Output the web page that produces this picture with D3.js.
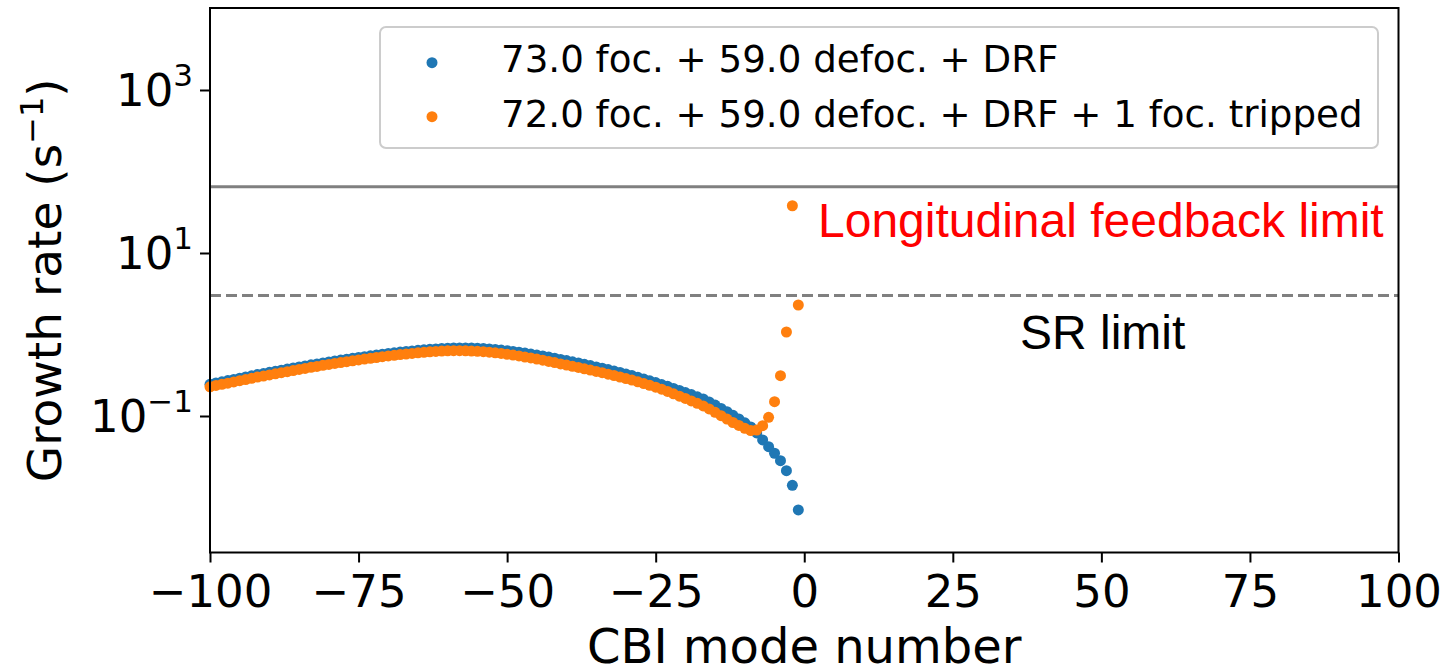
<!DOCTYPE html>
<html>
<head>
<meta charset="utf-8">
<script src="https://cdn.jsdelivr.net/npm/d3@7"></script>
<style>
  body { margin: 0; background: #fff; }
  svg text { font-family: "DejaVu Sans", sans-serif; }
</style>
</head>
<body>
<svg id="chart" width="1448" height="668"></svg>
<script>
// CBI mode numbers (x categories)
const modes = d3.range(-100, 0);

// growth rate (1/s), 73 foc. + 59 defoc. + DRF
const rateNominal = [
  0.245, 0.254, 0.263, 0.272, 0.281, 0.291, 0.301, 0.311, 0.322, 0.332,
  0.343, 0.353, 0.365, 0.376, 0.388, 0.400, 0.412, 0.424, 0.436, 0.448,
  0.461, 0.473, 0.485, 0.497, 0.510, 0.523, 0.535, 0.548, 0.560, 0.573,
  0.585, 0.596, 0.608, 0.619, 0.629, 0.640, 0.649, 0.658, 0.666, 0.673,
  0.679, 0.683, 0.685, 0.685, 0.683, 0.679, 0.673, 0.666, 0.656, 0.645,
  0.633, 0.620, 0.606, 0.591, 0.576, 0.560, 0.545, 0.528, 0.512, 0.495,
  0.478, 0.462, 0.447, 0.431, 0.415, 0.400, 0.386, 0.371, 0.356, 0.342,
  0.327, 0.313, 0.298, 0.284, 0.270, 0.257, 0.243, 0.231, 0.218, 0.206,
  0.194, 0.183, 0.172, 0.162, 0.149, 0.136, 0.124, 0.113, 0.102, 0.0919,
  0.0825, 0.0733, 0.0619, 0.0508, 0.0420, 0.0349, 0.0283, 0.0213, 0.0141, 0.00703
];

// growth rate (1/s), 72 foc. + 59 defoc. + DRF + 1 foc. tripped
const rateTripped = [
  0.228, 0.237, 0.245, 0.253, 0.262, 0.271, 0.280, 0.290, 0.300, 0.309,
  0.319, 0.329, 0.340, 0.350, 0.361, 0.373, 0.383, 0.395, 0.406, 0.418,
  0.429, 0.441, 0.452, 0.464, 0.476, 0.488, 0.499, 0.510, 0.522, 0.534,
  0.545, 0.555, 0.567, 0.576, 0.586, 0.596, 0.605, 0.613, 0.620, 0.627,
  0.631, 0.633, 0.633, 0.631, 0.627, 0.622, 0.615, 0.606, 0.596, 0.585,
  0.571, 0.559, 0.545, 0.529, 0.515, 0.499, 0.484, 0.467, 0.452, 0.436,
  0.421, 0.407, 0.394, 0.379, 0.366, 0.352, 0.340, 0.326, 0.314, 0.301,
  0.288, 0.276, 0.263, 0.250, 0.238, 0.226, 0.213, 0.200, 0.187, 0.175,
  0.164, 0.153, 0.143, 0.133, 0.122, 0.111, 0.101, 0.0916, 0.0832, 0.0765,
  0.0707, 0.0664, 0.0673, 0.0760, 0.0964, 0.150, 0.312, 1.073, 38.0, 2.30
];

const seriesLabels = ["73.0 foc. + 59.0 defoc. + DRF", "72.0 foc. + 59.0 defoc. + DRF + 1 foc. tripped"];
const seriesColors = ["#1f77b4", "#ff7f0e"];

// horizontal limits (1/s)
const feedbackLimit = 65;
const srLimit = 3;

const xTicks = [-100, -75, -50, -25, 0, 25, 50, 75, 100];
const yTicks = [1e-1, 1e1, 1e3];

const svg = d3.select('#chart');

const plot = { left: 210, right: 1398.5, top: 8, bottom: 552.5 };

const x = d3.scaleLinear().domain([-100, 100]).range([plot.left, plot.right]);
const y = d3.scaleLog().domain([0.002114, 10139]).range([plot.bottom, plot.top]);

// limit lines
svg.append('line')
    .attr('x1', plot.left).attr('x2', plot.right)
    .attr('y1', y(feedbackLimit)).attr('y2', y(feedbackLimit))
    .attr('stroke', '#808080').attr('stroke-width', 3);

svg.append('line')
    .attr('x1', plot.left).attr('x2', plot.right)
    .attr('y1', y(srLimit)).attr('y2', y(srLimit))
    .attr('stroke', '#808080').attr('stroke-width', 3)
    .attr('stroke-dasharray', '11,5');

// scatter points
const series = [rateNominal, rateTripped];
series.forEach((vals, si) => {
  svg.append('g')
    .selectAll('circle')
    .data(modes.map((m, i) => ({ m: m, v: vals[i] })))
    .enter().append('circle')
      .attr('cx', (d) => x(d.m))
      .attr('cy', (d) => y(d.v))
      .attr('r', 5.5)
      .attr('fill', seriesColors[si]);
});

// frame
svg.append('rect')
    .attr('x', plot.left).attr('y', plot.top)
    .attr('width', plot.right - plot.left).attr('height', plot.bottom - plot.top)
    .attr('fill', 'none').attr('stroke', '#000').attr('stroke-width', 2);

// x axis
const xAxis = svg.append('g')
    .attr('transform', `translate(0,${plot.bottom})`)
    .call(d3.axisBottom(x).tickValues(xTicks).tickSize(10)
      .tickFormat((d) => d < 0 ? '\u2212' + Math.abs(d) : d));
xAxis.select('.domain').remove();
xAxis.selectAll('line').attr('stroke-width', 2);
xAxis.selectAll('text')
    .attr('y', 54.5).attr('dy', 0)
    .attr('font-size', 45).attr('fill', '#000')
    .style('font-family', '"DejaVu Sans", sans-serif');

// y axis
const yAxis = svg.append('g')
    .attr('transform', `translate(${plot.left},0)`)
    .call(d3.axisLeft(y).tickValues(yTicks).tickSize(10).tickFormat(''));
yAxis.select('.domain').remove();
yAxis.selectAll('line').attr('stroke-width', 2);

yTicks.forEach((t) => {
  const exp = Math.round(Math.log10(t));
  const lbl = svg.append('text')
      .attr('x', 193).attr('y', y(t) + 16.5)
      .attr('text-anchor', 'end')
      .attr('font-size', 45);
  lbl.append('tspan').text('10');
  lbl.append('tspan').attr('dy', -20).attr('font-size', 31)
      .text(exp < 0 ? '\u2212' + Math.abs(exp) : exp);
});

// axis labels
svg.append('text')
    .attr('x', (plot.left + plot.right) / 2).attr('y', 663)
    .attr('text-anchor', 'middle').attr('font-size', 48)
    .text('CBI mode number');

const ylab = svg.append('text')
    .attr('transform', `translate(61,${(plot.top + plot.bottom) / 2}) rotate(-90)`)
    .attr('text-anchor', 'middle').attr('font-size', 47);
ylab.append('tspan').text('Growth rate (s');
ylab.append('tspan').attr('dy', -18).attr('font-size', 32).text('\u22121');
ylab.append('tspan').attr('dy', 18).text(')');

// limit annotations
svg.append('text')
    .attr('x', 818).attr('y', 237)
    .attr('font-size', 48).attr('fill', '#ff0000')
    .style('font-family', '"Liberation Sans", Arial, sans-serif')
    .text('Longitudinal feedback limit');

svg.append('text')
    .attr('x', 1020).attr('y', 349)
    .attr('font-size', 48).attr('fill', '#000')
    .style('font-family', '"Liberation Sans", Arial, sans-serif')
    .text('SR limit');

// legend
const legend = svg.append('g');
legend.append('rect')
    .attr('x', 380).attr('y', 27).attr('width', 998).attr('height', 121)
    .attr('rx', 6)
    .attr('fill', 'rgba(255,255,255,0.8)').attr('stroke', '#cccccc').attr('stroke-width', 2);

seriesLabels.forEach((s, i) => {
  const cy = 62.7 + i * 54;
  legend.append('circle').attr('cx', 432).attr('cy', cy).attr('r', 5.5).attr('fill', seriesColors[i]);
  legend.append('text').attr('x', 501).attr('y', 72 + i * 55)
      .attr('font-size', 37.2).text(s);
});
</script>
</body>
</html>
